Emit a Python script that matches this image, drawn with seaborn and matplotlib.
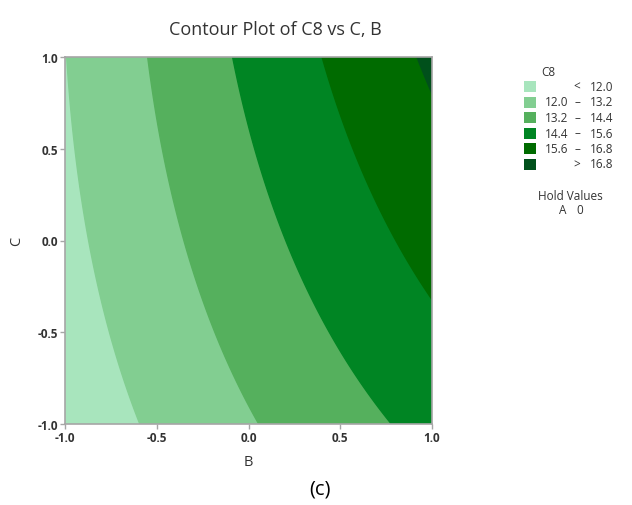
import numpy as np
import matplotlib
matplotlib.use("Agg")
import matplotlib.pyplot as plt
import seaborn as sns
from matplotlib.patches import Rectangle

# ---- values -------------------------------------------------------------
levels = [12.0, 13.2, 14.4, 15.6, 16.8]
legend_low = ["", "12.0", "13.2", "14.4", "15.6", ""]
legend_sym = ["<", "\u2013", "\u2013", "\u2013", "\u2013", ">"]
legend_high = ["12.0", "13.2", "14.4", "15.6", "16.8", "16.8"]
palette_hex = ["#A8E5BD", "#82CE91", "#55B05D", "#008523", "#006B00", "#00501B"]

# points on each contour boundary (B, C)
b_12_0 = [-0.986, -0.957, -0.868, -0.770, -0.665, -0.593]
c_12_0 = [1.0, 0.5, 0.0, -0.45, -0.79, -1.0]
b_13_2 = [-0.553, -0.464, -0.354, -0.204, -0.046, 0.054]
c_13_2 = [1.0, 0.5, 0.0, -0.45, -0.81, -1.0]
b_14_4 = [-0.085, 0.036, 0.195, 0.413, 0.637, 0.777]
c_14_4 = [1.0, 0.5, 0.0, -0.45, -0.81, -1.0]
b_15_6 = [0.400, 0.582, 0.790, 0.996]
c_15_6 = [1.0, 0.5, 0.0, -0.303]
b_16_8 = [0.910, 1.0]
c_16_8 = [1.0, 0.81]

ticks = [-1.0, -0.5, 0.0, 0.5, 1.0]

# ---- response surface (quadratic) through the read boundary points -------
bs = np.array(b_12_0 + b_13_2 + b_14_4 + b_15_6 + b_16_8)
cs = np.array(c_12_0 + c_13_2 + c_14_4 + c_15_6 + c_16_8)
zs = np.array([12.0] * len(b_12_0) + [13.2] * len(b_13_2) + [14.4] * len(b_14_4)
              + [15.6] * len(b_15_6) + [16.8] * len(b_16_8))
X = np.column_stack([np.ones_like(bs), bs, cs, bs ** 2, cs ** 2, bs * cs])
coef, *_ = np.linalg.lstsq(X, zs, rcond=None)

g = np.linspace(-1, 1, 301)
BB, CC = np.meshgrid(g, g)
ZZ = (coef[0] + coef[1] * BB + coef[2] * CC + coef[3] * BB ** 2
      + coef[4] * CC ** 2 + coef[5] * BB * CC)

# ---- figure --------------------------------------------------------------
sns.set_theme(style="white")
plt.rcParams["font.family"] = ["Open Sans", "DejaVu Sans"]
plt.rcParams["axes.unicode_minus"] = False

W, H = 632, 506
fig = plt.figure(figsize=(W / 100, H / 100), dpi=100)
ax = fig.add_axes([65 / W, 1 - 425 / H, (432 - 65) / W, (425 - 58) / H])

pal = sns.color_palette(palette_hex)
lv = [min(ZZ.min(), 0) - 1] + levels + [ZZ.max() + 1]
cf = ax.contourf(BB, CC, ZZ, levels=lv, colors=pal, antialiased=True)
try:
    cf.set_edgecolor("face")
except Exception:
    pass

ax.set_xlim(-1, 1)
ax.set_ylim(-1, 1)
ax.set_xticks(ticks)
ax.set_yticks(ticks)
ax.set_xticklabels([f"{t:.1f}" for t in ticks])
ax.set_yticklabels([f"{t:.1f}" for t in ticks])
for sp in ax.spines.values():
    sp.set_color("#A6A6A6")
    sp.set_linewidth(1.2)
ax.tick_params(axis="both", which="major", direction="out", length=3.5, width=1,
               color="#A6A6A6", labelsize=8.5, labelcolor="#333333", pad=1.5,
               bottom=True, left=True)
for lab in ax.get_xticklabels() + ax.get_yticklabels():
    lab.set_fontweight("bold")

ax.set_xlabel("B", fontsize=10.5, color="#333333", labelpad=7)
ax.set_ylabel("C", fontsize=10.5, color="#333333", labelpad=10)

fig.text(275.5 / W, 1 - 30 / H, "Contour Plot of C8 vs C, B", ha="center",
         va="center", fontsize=13, fontweight="medium", color="#333333")
fig.text(320 / W, 1 - 490 / H, "(c)", ha="center", va="center",
         fontsize=14.5, color="black")

# ---- legend ---------------------------------------------------------------
fs = 8.5
fig.text(548 / W, 1 - 72 / H, "C8", ha="center", va="center", fontsize=fs,
         color="#333333")
row_y = [87.5, 103, 118.5, 134, 149.5, 165]
for i, y in enumerate(row_y):
    fig.patches.append(Rectangle((524 / W, 1 - (y + 5.5) / H), 12 / W, 11 / H,
                                 transform=fig.transFigure, facecolor=pal[i],
                                 edgecolor="none"))
    fig.text(568 / W, 1 - y / H, legend_low[i], ha="right", va="center",
             fontsize=fs, color="#333333")
    fig.text(577 / W, 1 - y / H, legend_sym[i], ha="center", va="center",
             fontsize=fs, color="#333333")
    fig.text(613 / W, 1 - y / H, legend_high[i], ha="right", va="center",
             fontsize=fs, color="#333333")

fig.text(570 / W, 1 - 197 / H, "Hold Values", ha="center", va="center",
         fontsize=fs, color="#333333")
fig.text(563 / W, 1 - 211 / H, "A", ha="center", va="center", fontsize=fs,
         color="#333333")
fig.text(580 / W, 1 - 211 / H, "0", ha="center", va="center", fontsize=fs,
         color="#333333")

fig.savefig("out.png", dpi=100)
